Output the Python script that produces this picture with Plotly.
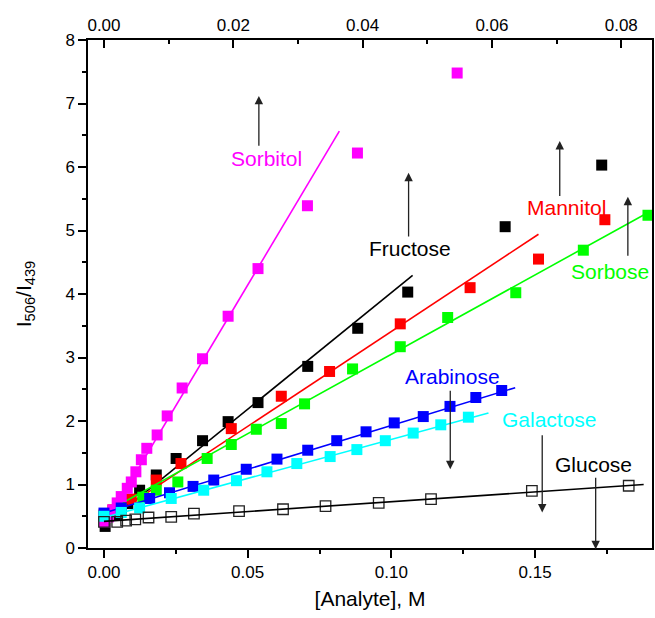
import plotly.graph_objects as go

# Ratiometric response I506/I439 versus analyte concentration (M)
sorbitol_x = [0.0002, 0.0016, 0.0031, 0.0046, 0.0060, 0.0081, 0.0095, 0.0111, 0.0130, 0.0149,
              0.0185, 0.0220, 0.0272, 0.0343, 0.0432, 0.0536, 0.0708, 0.0882, 0.1229]
sorbitol_y = [0.41, 0.49, 0.60, 0.71, 0.81, 0.94, 1.04, 1.20, 1.39, 1.57,
              1.78, 2.08, 2.52, 2.98, 3.65, 4.40, 5.39, 6.22, 7.48]

fructose_x = [0.0004, 0.0045, 0.0083, 0.0124, 0.0182, 0.0251, 0.0343, 0.0432, 0.0536, 0.0709,
              0.0883, 0.1057, 0.1396, 0.1732]
fructose_y = [0.34, 0.52, 0.70, 0.91, 1.15, 1.41, 1.69, 1.99, 2.29, 2.86,
              3.46, 4.03, 5.06, 6.03]

mannitol_x = [0.0000, 0.0031, 0.0060, 0.0095, 0.0182, 0.0268, 0.0443, 0.0617, 0.0785, 0.1031,
              0.1274, 0.1512, 0.1743]
mannitol_y = [0.52, 0.60, 0.68, 0.77, 1.07, 1.33, 1.88, 2.39, 2.78, 3.53,
              4.10, 4.55, 5.17]

sorbose_x = [0.0000, 0.0060, 0.0135, 0.0182, 0.0257, 0.0359, 0.0443, 0.0530, 0.0617, 0.0698,
             0.0865, 0.1031, 0.1196, 0.1433, 0.1668, 0.1893]
sorbose_y = [0.50, 0.61, 0.80, 0.91, 1.04, 1.41, 1.63, 1.87, 1.96, 2.27,
             2.82, 3.17, 3.63, 4.02, 4.69, 5.24]

arabinose_x = [0.0000, 0.0060, 0.0159, 0.0228, 0.0310, 0.0382, 0.0495, 0.0602, 0.0709, 0.0810,
               0.0912, 0.1010, 0.1111, 0.1204, 0.1294, 0.1384]
arabinose_y = [0.55, 0.63, 0.78, 0.87, 0.97, 1.07, 1.24, 1.40, 1.54, 1.69,
               1.83, 1.97, 2.07, 2.23, 2.37, 2.48]

galactose_x = [0.0000, 0.0060, 0.0124, 0.0234, 0.0347, 0.0461, 0.0567, 0.0671, 0.0787, 0.0880,
               0.0979, 0.1076, 0.1172, 0.1268]
galactose_y = [0.50, 0.56, 0.63, 0.78, 0.91, 1.06, 1.20, 1.33, 1.44, 1.55,
               1.69, 1.81, 1.94, 2.06]

glucose_x = [0.0000, 0.0046, 0.0077, 0.0109, 0.0155, 0.0234, 0.0313, 0.0470, 0.0623, 0.0771,
             0.0956, 0.1138, 0.1489, 0.1826]
glucose_y = [0.41, 0.41, 0.43, 0.45, 0.48, 0.49, 0.54, 0.58, 0.61, 0.66,
             0.71, 0.77, 0.90, 0.98]

# Linear fits: intercept, slope, fitted concentration span
fit_intercept = {"Sorbitol": 0.34, "Fructose": 0.35, "Mannitol": 0.42, "Sorbose": 0.55,
                 "Arabinose": 0.55, "Galactose": 0.48, "Glucose": 0.42}
fit_slope = {"Sorbitol": 76.0, "Fructose": 36.7, "Mannitol": 29.9, "Sorbose": 25.0,
             "Arabinose": 13.8, "Galactose": 12.3, "Glucose": 3.09}
fit_span = {"Sorbitol": (0.0, 0.0819), "Fructose": (0.0, 0.1074), "Mannitol": (0.0, 0.1512),
            "Sorbose": (0.0, 0.1900), "Arabinose": (0.0, 0.1431), "Galactose": (0.0, 0.1338),
            "Glucose": (0.0, 0.1878)}

colors = {"Sorbitol": "#ff00ff", "Fructose": "#000000", "Mannitol": "#ff0000",
          "Sorbose": "#00ff00", "Arabinose": "#0000ff", "Galactose": "#00ffff",
          "Glucose": "#000000"}

series = [
    ("Fructose", fructose_x, fructose_y),
    ("Mannitol", mannitol_x, mannitol_y),
    ("Sorbose", sorbose_x, sorbose_y),
    ("Sorbitol", sorbitol_x, sorbitol_y),
    ("Arabinose", arabinose_x, arabinose_y),
    ("Galactose", galactose_x, galactose_y),
    ("Glucose", glucose_x, glucose_y),
]

x_range = [-0.00556, 0.1907]
top_scale = 2.25  # upper axis shows concentration divided by this factor
top_range = [x_range[0] / top_scale, x_range[1] / top_scale]

FONT = "Liberation Sans, Arial, sans-serif"

fig = go.Figure()

for name, xs, ys in series:
    c = colors[name]
    if name == "Glucose":
        marker = dict(symbol="square-open", size=10.5, color="#222222",
                      line=dict(width=1.3, color="#222222"))
    else:
        marker = dict(symbol="square", size=11, color=c, line=dict(width=0))
    fig.add_trace(go.Scatter(x=xs, y=ys, mode="markers", marker=marker,
                             name=name, showlegend=False, hoverinfo="x+y"))
    x0, x1 = fit_span[name]
    a, b = fit_intercept[name], fit_slope[name]
    fig.add_trace(go.Scatter(x=[x0, x1], y=[a + b * x0, a + b * x1], mode="lines",
                             line=dict(color=c, width=1.6), showlegend=False,
                             hoverinfo="skip"))

# invisible trace that anchors the secondary (top) concentration axis
fig.add_trace(go.Scatter(x=top_range, y=[0, 0], xaxis="x2", yaxis="y", mode="markers",
                         marker=dict(opacity=0, size=1), showlegend=False, hoverinfo="skip"))

# Text labels with arrows showing the direction of change
labels = [
    ("Sorbitol", 0.0565, 6.14, 0.0539, 6.31, 7.12),
    ("Fructose", 0.1066, 4.71, 0.1060, 4.88, 5.91),
    ("Mannitol", 0.1609, 5.37, 0.1586, 5.52, 6.41),
    ("Sorbose", 0.1760, 4.35, 0.1823, 4.58, 5.53),
    ("Arabinose", 0.1213, 2.70, 0.1205, 2.50, 1.24),
    ("Galactose", 0.1551, 2.03, 0.1525, 1.80, 0.56),
    ("Glucose", 0.1705, 1.32, 0.1711, 1.13, -0.02),
]
annotations = []
for name, tx, ty, axx, y_tail, y_tip in labels:
    annotations.append(dict(x=tx, y=ty, xref="x", yref="y", text=name, showarrow=False,
                            font=dict(family=FONT, size=21,
                                      color=colors[name] if name != "Glucose" else "#000000"),
                            xanchor="center", yanchor="middle"))
    annotations.append(dict(x=axx, y=y_tip, ax=axx, ay=y_tail, xref="x", yref="y",
                            axref="x", ayref="y", text="", showarrow=True,
                            arrowhead=2, arrowsize=1.3, arrowwidth=1.3, arrowcolor="#222222",
                            standoff=0, startstandoff=0))

axis_common = dict(showline=True, linecolor="black", linewidth=1.5, showgrid=False,
                   zeroline=False, tickcolor="black", tickwidth=1.5,
                   tickfont=dict(family=FONT, size=17, color="black"))

fig.update_layout(
    width=655, height=618,
    margin=dict(l=88, r=1, t=40, b=70),
    paper_bgcolor="white", plot_bgcolor="white",
    font=dict(family=FONT, color="black"),
    xaxis=dict(range=x_range, dtick=0.05, tick0=0, tickformat=".2f",
               ticks="outside", ticklen=8,
               minor=dict(dtick=0.025, tick0=0, ticks="outside", ticklen=4,
                          tickcolor="black", tickwidth=1.5),
               title=dict(text="[Analyte], M", font=dict(family=FONT, size=21), standoff=10),
               **axis_common),
    xaxis2=dict(range=top_range, overlaying="x", anchor="y",
                side="top", dtick=0.02, tick0=0, tickformat=".2f",
                ticks="inside", ticklen=8,
                minor=dict(dtick=0.01, tick0=0, ticks="inside", ticklen=4,
                           tickcolor="black", tickwidth=1.5),
                **axis_common),
    yaxis=dict(range=[0, 8], dtick=1, tick0=0, ticks="outside", ticklen=8, mirror=True,
               minor=dict(dtick=0.5, tick0=0, ticks="outside", ticklen=4,
                          tickcolor="black", tickwidth=1.5),
               title=dict(text="I<sub>506</sub>/I<sub>439</sub>",
                          font=dict(family=FONT, size=21), standoff=28),
               **axis_common),
    annotations=annotations,
)

fig.write_html("out.html")
